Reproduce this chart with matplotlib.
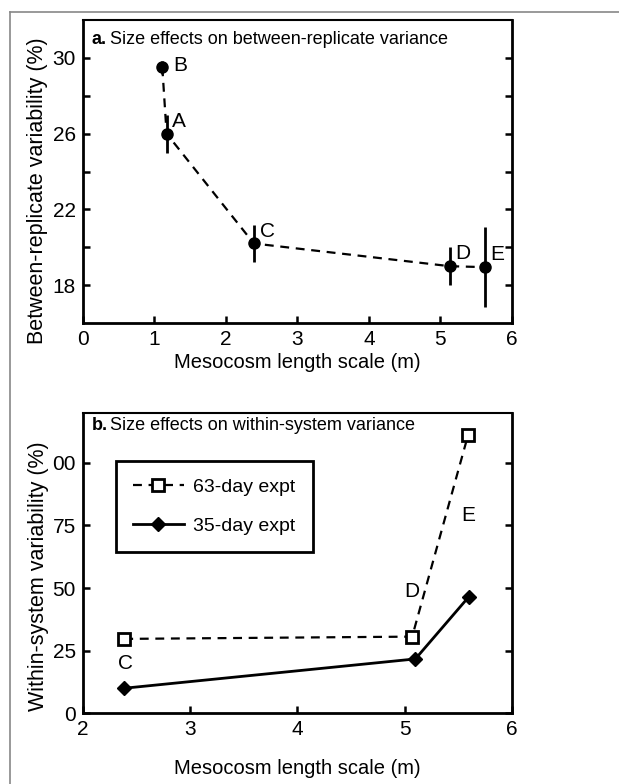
import matplotlib
matplotlib.use("Agg")
import matplotlib.pyplot as plt
from matplotlib.lines import Line2D

plt.rcParams['font.family'] = ['Liberation Sans', 'DejaVu Sans']

# panel a: between-replicate variability
a_labels = ["B", "A", "C", "D", "E"]
a_x = [1.11, 1.17, 2.39, 5.13, 5.62]
a_y = [29.5, 26.0, 20.2, 19.0, 18.95]
a_err = [0.35, 1.0, 1.0, 1.0, 2.1]

# panel b: within-system variability
b_x63 = [2.385, 5.07, 5.59]
b_y63 = [29.7, 30.6, 110.9]
b_x35 = [2.385, 5.10, 5.60]
b_y35 = [10.0, 21.7, 46.6]
b_labels = ["C", "D", "E"]
b_label_x = [2.40, 5.07, 5.59]
b_label_y = [20.0, 48.6, 79.0]

fig = plt.figure(figsize=(6.19, 7.84), dpi=100)

# outer frame
fig.add_artist(Line2D([0.016, 0.016], [0.0, 0.985], color="#888888", lw=1.2))
fig.add_artist(Line2D([0.016, 1.0], [0.985, 0.985], color="#888888", lw=1.2))


def style_axes(ax):
    for s in ax.spines.values():
        s.set_linewidth(2.0)
    ax.spines['top'].set_linewidth(1.5)
    ax.tick_params(direction="in", length=5, width=1.8, left=True, right=True,
                   top=False, bottom=True, labelsize=15, pad=5)


def panel_title(ax, letter, text, y):
    ax.text(0.02, y, letter, transform=ax.transAxes, fontsize=13,
            fontweight="bold", va="top", ha="left")
    ax.text(0.063, y, text, transform=ax.transAxes, fontsize=13,
            va="top", ha="left")


ax1 = fig.add_axes([0.134, 0.588, 0.693, 0.3865])
ax1.plot(a_x, a_y, color="black", ls=(0, (4, 3)), lw=1.6, zorder=2)
ax1.errorbar(a_x, a_y, yerr=a_err, fmt="o", color="black", ms=8,
             elinewidth=2.0, capsize=0, zorder=3)
for lab, x, y in zip(a_labels, a_x, a_y):
    if lab == "B":
        ax1.text(x + 0.15, y + 0.1, lab, fontsize=15, va="center", ha="left")
    else:
        ax1.text(x + 0.08, y + 0.65, lab, fontsize=15, va="center", ha="left")
ax1.set_xlim(0, 6)
ax1.set_ylim(16, 32)
ax1.set_xticks(range(0, 7))
ax1.set_yticks([18, 20, 22, 24, 26, 28, 30])
ax1.set_yticklabels(["18", "", "22", "", "26", "", "30"])
style_axes(ax1)
ax1.set_xlabel("Mesocosm length scale (m)", fontsize=14.5, labelpad=3)
ax1.set_ylabel("Between-replicate variability (%)", fontsize=15.5)
ax1.yaxis.set_label_coords(-0.082, 0.436)
panel_title(ax1, "a.", "Size effects on between-replicate variance", 0.965)

ax2 = fig.add_axes([0.134, 0.0902, 0.693, 0.3834])
ax2.plot(b_x63, b_y63, color="black", ls=(0, (4, 3)), lw=1.6, marker="s", ms=8,
         mfc="white", mec="black", mew=2, label="63-day expt")
ax2.plot(b_x35, b_y35, color="black", ls="-", lw=2.0, marker="D", ms=7,
         mfc="black", mec="black", label="35-day expt")
for lab, x, y in zip(b_labels, b_label_x, b_label_y):
    ax2.text(x, y, lab, fontsize=15, va="center", ha="center")
ax2.set_xlim(2, 6)
ax2.set_ylim(0, 120)
ax2.set_xticks([2, 3, 4, 5, 6])
ax2.set_yticks([0, 25, 50, 75, 100])
ax2.set_yticklabels(["0", "25", "50", "75", "00"])
style_axes(ax2)
ax2.set_xlabel("Mesocosm length scale (m)", fontsize=14.5, labelpad=14)
ax2.set_ylabel("Within-system variability (%)", fontsize=15.5)
ax2.yaxis.set_label_coords(-0.08, 0.457)
panel_title(ax2, "b.", "Size effects on within-system variance", 0.985)
leg = ax2.legend(loc="upper left", bbox_to_anchor=(0.076, 0.84), borderaxespad=0,
                 fontsize=14, fancybox=False, edgecolor="black", framealpha=1,
                 handlelength=2.6, labelspacing=1.1, borderpad=0.9, handletextpad=0.5)
leg.get_frame().set_linewidth(2.0)

fig.savefig("out.png", dpi=100)
